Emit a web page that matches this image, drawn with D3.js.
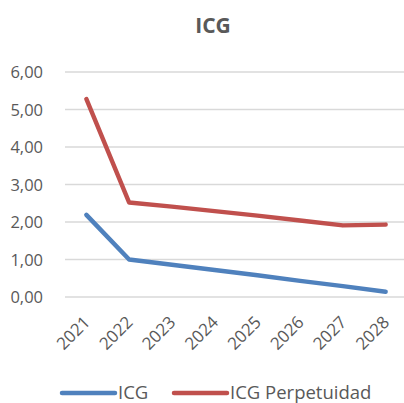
<!DOCTYPE html>
<html lang="es">
<head>
<meta charset="UTF-8">
<title>ICG</title>
<script src="https://d3js.org/d3.v7.min.js"></script>
<style>
    body { margin: 0; background: #fff; }
    svg { display: block; font-family: "Open Sans", "Noto Sans", sans-serif; }
    .axis text { fill: #595959; font-family: "Open Sans", "Noto Sans", sans-serif; }
    .grid line { stroke: #d9d9d9; stroke-width: 1.5px; }
</style>
</head>
<body>
<svg width="404" height="403"></svg>
<script>
    const years = ["2021", "2022", "2023", "2024", "2025", "2026", "2027", "2028"];
    const icg = [2.19, 1.00, 0.86, 0.72, 0.58, 0.43, 0.29, 0.14];
    const icgPerpetuidad = [5.28, 2.52, 2.41, 2.29, 2.17, 2.04, 1.91, 1.93];
    const yTicks = [0, 1, 2, 3, 4, 5, 6];
    const seriesNames = ["ICG", "ICG Perpetuidad"];

    const width = 404, height = 403;
    const margin = { top: 72, bottom: 106, left: 65, right: -3 };
    const svg = d3.select("svg");

    const series = [
        { name: seriesNames[0], values: icg, color: "#4F81BD" },
        { name: seriesNames[1], values: icgPerpetuidad, color: "#C0504D" }
    ];

    const x = d3.scaleBand()
        .domain(years)
        .range([margin.left, width - margin.right]);

    const y = d3.scaleLinear()
        .domain([0, 6])
        .range([height - margin.bottom, margin.top]);

    // title
    svg.append("text")
        .attr("x", 213)
        .attr("y", 33)
        .attr("text-anchor", "middle")
        .attr("font-size", 21)
        .attr("font-weight", "bold")
        .attr("fill", "#595959")
        .text("ICG");

    // gridlines
    svg.append("g").attr("class", "grid")
        .selectAll("line")
        .data(yTicks)
        .enter().append("line")
        .attr("x1", margin.left)
        .attr("x2", width)
        .attr("y1", d => y(d))
        .attr("y2", d => y(d));

    // y axis
    const fmt = d => d3.format(".2f")(d).replace(".", ",");
    const yAxis = svg.append("g").attr("class", "axis")
        .attr("transform", `translate(${margin.left - 19},0)`)
        .call(d3.axisLeft(y).tickValues(yTicks).tickFormat(fmt).tickSize(0));
    yAxis.select(".domain").remove();
    yAxis.selectAll("text").attr("font-size", 16.5).attr("dy", "0.35em");

    // x axis
    const xAxis = svg.append("g").attr("class", "axis")
        .attr("transform", `translate(0,${height - margin.bottom})`)
        .call(d3.axisBottom(x).tickSize(0));
    xAxis.select(".domain").remove();
    xAxis.selectAll("text")
        .attr("font-size", 17)
        .attr("text-anchor", "end")
        .attr("dy", "0.35em")
        .attr("transform", "translate(-1.5,20) rotate(-45)");

    // lines
    const line = d3.line()
        .x((d, i) => x(years[i]) + x.bandwidth() / 2)
        .y(d => y(d));

    svg.selectAll(".series")
        .data(series)
        .enter().append("path")
        .attr("class", "series")
        .attr("fill", "none")
        .attr("stroke", d => d.color)
        .attr("stroke-width", 4.5)
        .attr("stroke-linecap", "round")
        .attr("stroke-linejoin", "round")
        .attr("d", d => line(d.values));

    // legend
    const legendX = [62, 174];
    const legend = svg.append("g")
        .selectAll("g")
        .data(series)
        .enter().append("g")
        .attr("transform", (d, i) => `translate(${legendX[i]},393)`);

    legend.append("line")
        .attr("x1", 0).attr("x2", 53)
        .attr("stroke", d => d.color)
        .attr("stroke-width", 4.5)
        .attr("stroke-linecap", "round");

    legend.append("text")
        .attr("x", 56)
        .attr("dy", "0.35em")
        .attr("font-size", 18.5)
        .attr("fill", "#595959")
        .text(d => d.name);
</script>
</body>
</html>
